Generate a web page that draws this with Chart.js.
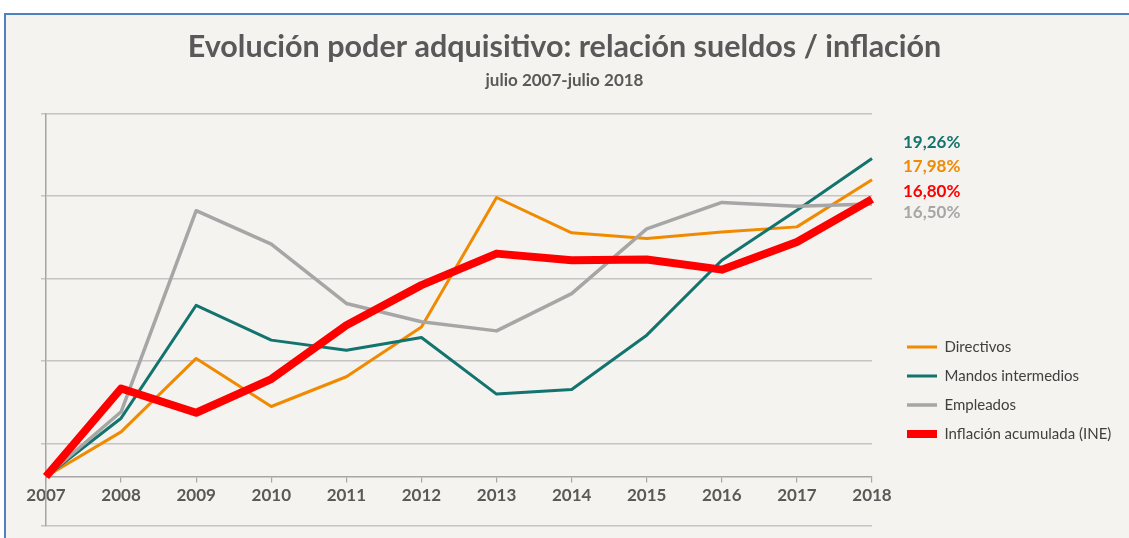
<!DOCTYPE html>
<html>
<head>
<meta charset="utf-8">
<script src="https://cdn.jsdelivr.net/npm/chart.js@4.4.1/dist/chart.umd.min.js"></script>
<style>
  html, body { margin: 0; padding: 0; background: #ffffff; width: 1129px; height: 538px; overflow: hidden; }
  #panel { position: absolute; left: 4px; top: 13px; width: 1125px; height: 525px;
           background: #f4f3ef; border-top: 2px solid #4f81bd; border-left: 2px solid #4f81bd; box-sizing: border-box; }
  #c { position: absolute; left: 0; top: 0; }
</style>
</head>
<body>
<div id="panel"></div>
<canvas id="c" width="1129" height="538"></canvas>
<script>
// ---- data ----
const years = ['2007','2008','2009','2010','2011','2012','2013','2014','2015','2016','2017','2018'];
const directivos = [0, 2.70, 7.15, 4.24, 6.04, 9.06, 16.90, 14.76, 14.41, 14.81, 15.12, 17.98];
const mandos     = [0, 3.53, 10.37, 8.26, 7.65, 8.42, 4.99, 5.27, 8.56, 13.10, 16.13, 19.26];
const empleados  = [0, 3.92, 16.10, 14.08, 10.48, 9.37, 8.82, 11.08, 15.00, 16.60, 16.37, 16.50];
const inflacion  = [0, 5.33, 3.86, 5.90, 9.16, 11.59, 13.50, 13.10, 13.14, 12.53, 14.20, 16.80];
const seriesNames = ['Directivos', 'Mandos intermedios', 'Empleados', 'Inflación acumulada (INE)'];
const titleText = 'Evolución poder adquisitivo: relación sueldos / inflación';
const subtitleText = 'julio 2007-julio 2018';

const COL_DIR = '#f08a00', COL_MAN = '#13736e', COL_EMP = '#a6a6a6', COL_INF = '#ff0000';

// end-of-series value labels (order top to bottom)
const endLabelSeries = [
  { data: mandos, color: COL_MAN, y: 143 },
  { data: directivos, color: COL_DIR, y: 167 },
  { data: inflacion, color: COL_INF, y: 192 },
  { data: empleados, color: COL_EMP, y: 213 }
];

const endLabelsPlugin = {
  id: 'endLabels',
  afterDraw(chart) {
    const ctx = chart.ctx;
    const x = chart.chartArea.right + 31;
    ctx.save();
    ctx.font = 'bold 17px Lato';
    ctx.textAlign = 'left';
    ctx.textBaseline = 'middle';
    endLabelSeries.forEach(s => {
      const v = s.data[s.data.length - 1];
      ctx.fillStyle = s.color;
      ctx.fillText(v.toFixed(2).replace('.', ',') + '%', x, s.y);
    });
    ctx.restore();
  }
};

const legendPlacer = {
  id: 'legendPlacer',
  afterLayout(chart) {
    const lg = chart.legend;
    if (!lg) return;
    const w = lg.width, h = lg.height;
    lg.left = 893; lg.right = 893 + w;
    lg.top = 325.5; lg.bottom = 325.5 + h;
  }
};

new Chart(document.getElementById('c'), {
  type: 'line',
  data: {
    labels: years,
    datasets: [
      { label: seriesNames[0], data: directivos, borderColor: COL_DIR, backgroundColor: COL_DIR, borderWidth: 3, order: 4 },
      { label: seriesNames[1], data: mandos, borderColor: COL_MAN, backgroundColor: COL_MAN, borderWidth: 3, order: 3 },
      { label: seriesNames[2], data: empleados, borderColor: COL_EMP, backgroundColor: COL_EMP, borderWidth: 3.5, order: 2 },
      { label: seriesNames[3], data: inflacion, borderColor: COL_INF, backgroundColor: COL_INF, borderWidth: 8, order: 1 }
    ]
  },
  options: {
    responsive: false,
    animation: false,
    devicePixelRatio: 1,
    layout: { padding: { top: 0, left: 0, right: 0, bottom: 12 } },
    elements: {
      point: { radius: 0, hoverRadius: 0 },
      line: { tension: 0, borderJoinStyle: 'round', borderCapStyle: 'butt', fill: false }
    },
    scales: {
      x: {
        type: 'category',
        position: { y: 0 },
        offset: false,
        grid: { display: true, drawOnChartArea: false, drawTicks: true, tickLength: 5, color: '#a6a6a6', lineWidth: 1.2 },
        border: { display: true, color: '#a6a6a6', width: 1.5 },
        ticks: { color: '#595959', font: { family: 'Lato', size: 17, weight: 'bold' }, padding: 4, maxRotation: 0, autoSkip: false },
        afterFit(scale) { scale.paddingLeft = 46; scale.paddingRight = 257; }
      },
      y: {
        min: -3, max: 22,
        ticks: { display: false, stepSize: 5 },
        grid: { display: true, color: '#c4c4c4', lineWidth: 1.5, drawTicks: true, tickLength: 5 },
        border: { display: true, color: '#a6a6a6', width: 1.5 }
      }
    },
    plugins: {
      title: {
        display: true, text: titleText, color: '#595959',
        font: { family: 'Lato', size: 30.5, weight: 'bold' },
        padding: { top: 28.7, bottom: 0 }
      },
      subtitle: {
        display: true, text: subtitleText, color: '#595959',
        font: { family: 'Lato', size: 17, weight: 'bold' },
        padding: { top: 4.8, bottom: 22.8 }
      },
      legend: {
        display: true,
        position: 'chartArea',
        align: 'start',
        labels: {
          usePointStyle: true, pointStyle: 'line', pointStyleWidth: 30,
          padding: 14, color: '#404040',
          font: { family: 'Lato', size: 15 },
          sort: (a, b) => a.datasetIndex - b.datasetIndex
        }
      },
      tooltip: { enabled: false }
    }
  },
  plugins: [legendPlacer, endLabelsPlugin]
});
</script>
</body>
</html>
